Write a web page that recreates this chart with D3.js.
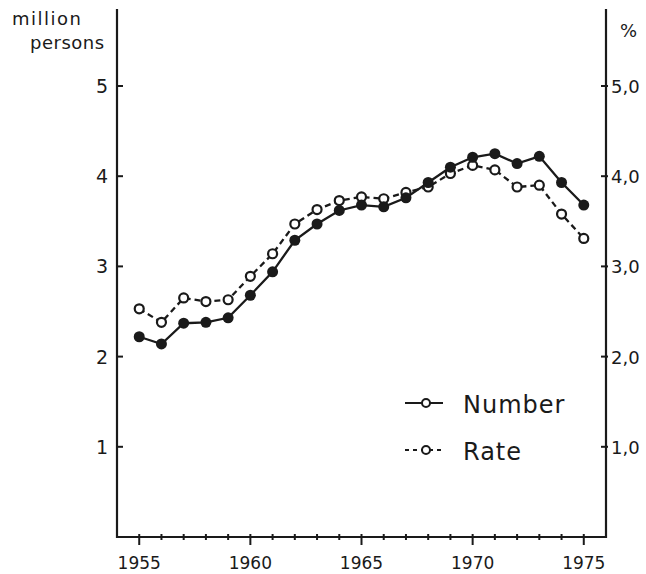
<!DOCTYPE html>
<html>
<head>
<meta charset="utf-8">
<script src="https://cdn.jsdelivr.net/npm/d3@7"></script>
<style>
  body { margin: 0; background: #fff; }
  svg { display: block; }
  text { font-family: "DejaVu Sans", sans-serif; fill: #1a1a1a; }
</style>
</head>
<body>
<div id="container"></div>
<script>
const w = 646,
  h = 574;

const years = d3.range(1955, 1976);
const numberValues = [2.22, 2.14, 2.37, 2.38, 2.43, 2.68, 2.94, 3.29, 3.47, 3.62, 3.68, 3.66, 3.76, 3.93, 4.1, 4.21, 4.25, 4.14, 4.22, 3.93, 3.68];
const rateValues = [2.53, 2.38, 2.65, 2.61, 2.63, 2.89, 3.14, 3.47, 3.63, 3.73, 3.77, 3.75, 3.82, 3.88, 4.03, 4.12, 4.07, 3.88, 3.9, 3.58, 3.31];
const leftTicks = [1, 2, 3, 4, 5];
const rightTicks = [1, 2, 3, 4, 5];
const majorYears = [1955, 1960, 1965, 1970, 1975];
const legendItems = [
  { label: 'Number', dash: null },
  { label: 'Rate', dash: '4,4' },
];

const ink = '#1a1a1a';

const svg = d3
  .select('#container')
  .append('svg')
  .attr('width', w)
  .attr('height', h);

const x = d3.scaleLinear().domain([1954, 1976]).range([117, 606]);
const y = d3.scaleLinear().domain([0, 5]).range([537, 86]);

// axes frame: left, right, bottom
svg
  .append('path')
  .attr('d', `M${x(1954)},9 V${y(0)} H${x(1976)} V9`)
  .attr('fill', 'none')
  .attr('stroke', ink)
  .attr('stroke-width', 2.2);

// x ticks
svg
  .append('g')
  .selectAll('line')
  .data(d3.range(1955, 1976))
  .enter()
  .append('line')
  .attr('x1', (d) => x(d))
  .attr('x2', (d) => x(d))
  .attr('y1', (d) => y(0) - 3)
  .attr('y2', (d) => (majorYears.includes(d) ? y(0) + 8 : y(0) + 3))
  .attr('stroke', ink)
  .attr('stroke-width', 2);

svg
  .append('g')
  .selectAll('text')
  .data(majorYears)
  .enter()
  .append('text')
  .attr('x', (d) => x(d))
  .attr('y', 569)
  .attr('text-anchor', 'middle')
  .style('font-size', '17px')
  .text((d) => d);

// left axis
svg
  .append('g')
  .selectAll('line')
  .data(leftTicks)
  .enter()
  .append('line')
  .attr('x1', x(1954))
  .attr('x2', x(1954) + 6)
  .attr('y1', (d) => y(d))
  .attr('y2', (d) => y(d))
  .attr('stroke', ink)
  .attr('stroke-width', 2);

svg
  .append('g')
  .selectAll('text')
  .data(leftTicks)
  .enter()
  .append('text')
  .attr('x', 108)
  .attr('y', (d) => y(d) + 7)
  .attr('text-anchor', 'end')
  .style('font-size', '19px')
  .text((d) => d);

// right axis
svg
  .append('g')
  .selectAll('line')
  .data(rightTicks)
  .enter()
  .append('line')
  .attr('x1', x(1976) - 5)
  .attr('x2', x(1976) + 2)
  .attr('y1', (d) => y(d))
  .attr('y2', (d) => y(d))
  .attr('stroke', ink)
  .attr('stroke-width', 2);

svg
  .append('g')
  .selectAll('text')
  .data(rightTicks)
  .enter()
  .append('text')
  .attr('x', 611)
  .attr('y', (d) => y(d) + 7)
  .style('font-size', '18px')
  .text((d) => d3.format('.1f')(d).replace('.', ','));

// axis titles
svg.append('text').attr('x', 12).attr('y', 25).style('font-size', '18px').style('letter-spacing', '1.5px').text('million');
svg.append('text').attr('x', 30).attr('y', 49).style('font-size', '18px').style('letter-spacing', '0.5px').text('persons');
svg.append('text').attr('x', 620).attr('y', 37).style('font-size', '18px').text('%');

// lines
const line = d3
  .line()
  .x((d, i) => x(years[i]))
  .y((d) => y(d));

svg
  .append('path')
  .datum(rateValues)
  .attr('d', line)
  .attr('fill', 'none')
  .attr('stroke', ink)
  .attr('stroke-width', 2.3)
  .attr('stroke-dasharray', '6,4');

svg
  .append('path')
  .datum(numberValues)
  .attr('d', line)
  .attr('fill', 'none')
  .attr('stroke', ink)
  .attr('stroke-width', 2.3);

svg
  .append('g')
  .selectAll('circle')
  .data(rateValues)
  .enter()
  .append('circle')
  .attr('cx', (d, i) => x(years[i]))
  .attr('cy', (d) => y(d))
  .attr('r', 4.5)
  .attr('fill', '#fff')
  .attr('stroke', ink)
  .attr('stroke-width', 2.2);

svg
  .append('g')
  .selectAll('circle')
  .data(numberValues)
  .enter()
  .append('circle')
  .attr('cx', (d, i) => x(years[i]))
  .attr('cy', (d) => y(d))
  .attr('r', 5.5)
  .attr('fill', ink);

// legend
const legend = svg
  .append('g')
  .selectAll('g')
  .data(legendItems)
  .enter()
  .append('g')
  .attr('transform', (d, i) => `translate(405, ${403 + i * 47})`);

legend
  .append('line')
  .attr('x1', 0)
  .attr('x2', 38)
  .attr('stroke', ink)
  .attr('stroke-width', 2.2)
  .attr('stroke-dasharray', (d) => d.dash);

legend
  .append('circle')
  .attr('cx', 21)
  .attr('r', 4)
  .attr('fill', '#fff')
  .attr('stroke', ink)
  .attr('stroke-width', 2);

legend
  .append('text')
  .attr('x', 58)
  .attr('y', 10)
  .style('font-size', '24px')
  .style('letter-spacing', '1px')
  .text((d) => d.label);
</script>
</body>
</html>
